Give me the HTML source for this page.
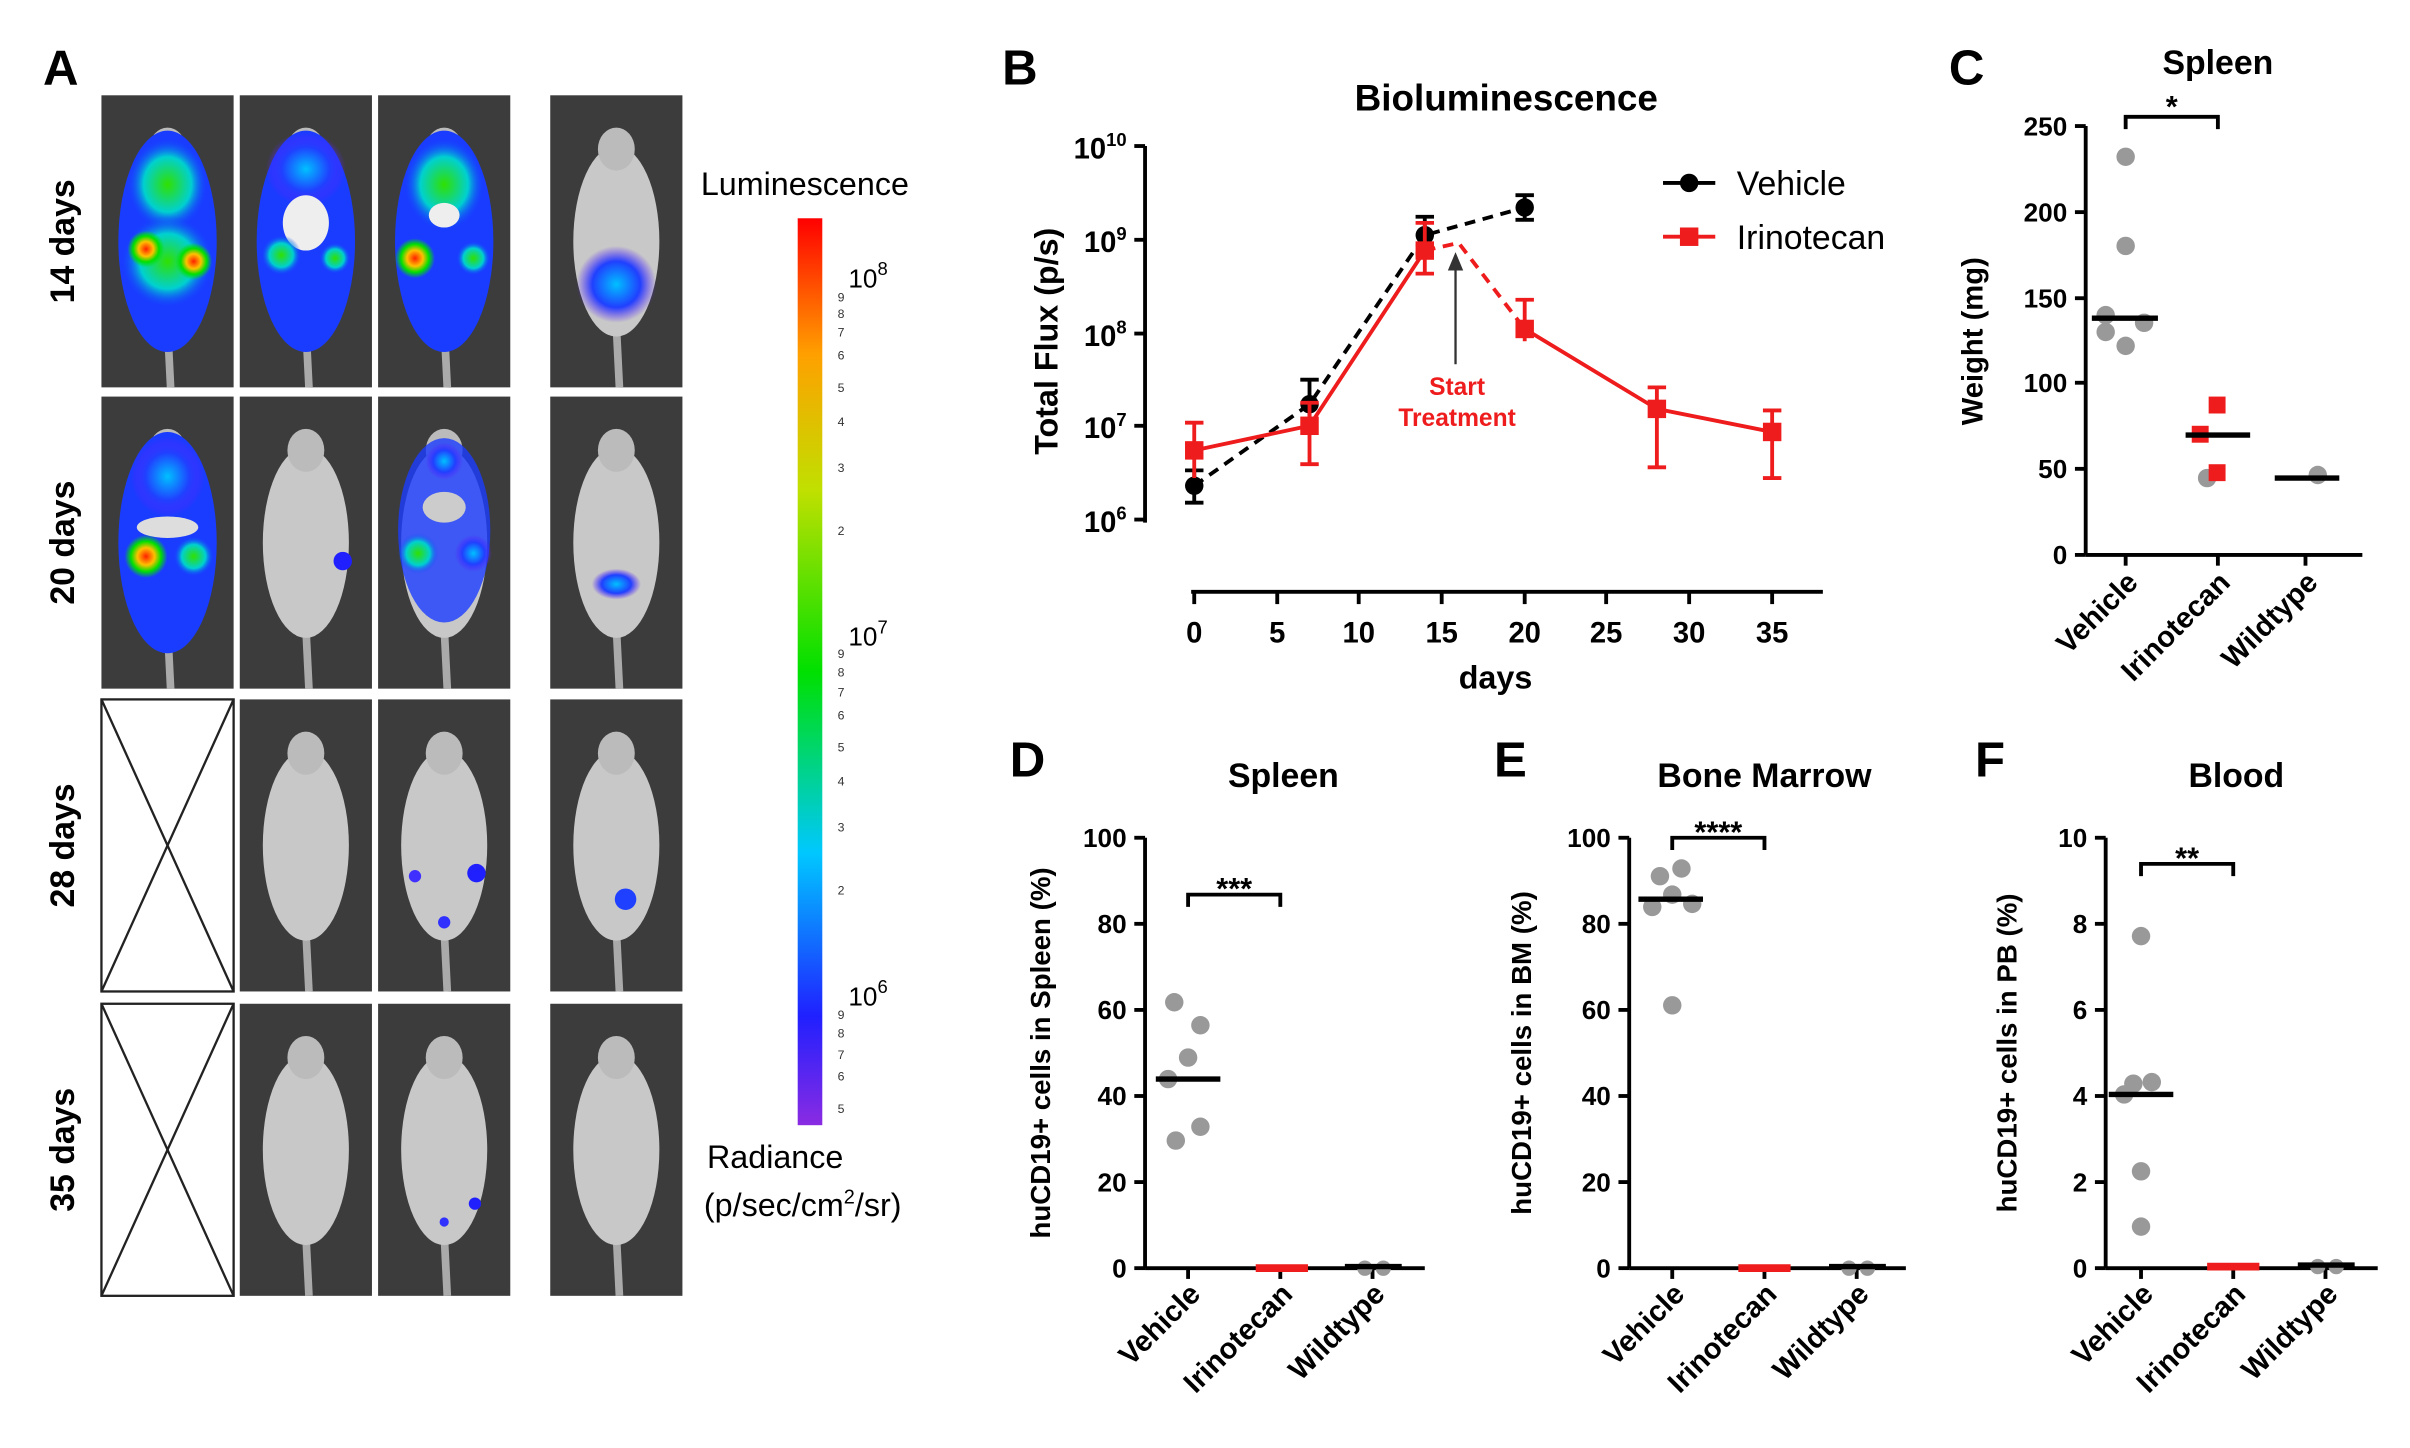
<!DOCTYPE html>
<html><head><meta charset="utf-8"><style>
html,body{margin:0;padding:0;background:#fff}
svg{display:block}
text{font-family:"Liberation Sans",Arial,sans-serif}
.b{font-weight:bold}
</style></head><body>
<svg width="2410" height="1448" viewBox="0 0 1568 942" preserveAspectRatio="none" xmlns="http://www.w3.org/2000/svg">
<defs>
<linearGradient id="cb" x1="0" y1="1" x2="0" y2="0">
<stop offset="0" stop-color="#8a2be2"/><stop offset="0.12" stop-color="#2020ff"/><stop offset="0.3" stop-color="#00c8ff"/><stop offset="0.5" stop-color="#00e000"/><stop offset="0.7" stop-color="#c0e000"/><stop offset="0.85" stop-color="#ffa000"/><stop offset="1" stop-color="#ff0000"/>
</linearGradient>
<radialGradient id="hot"><stop offset="0" stop-color="#ff2000"/><stop offset="0.4" stop-color="#ffc000"/><stop offset="0.7" stop-color="#00e000"/><stop offset="1" stop-color="#00e000" stop-opacity="0"/></radialGradient>
<radialGradient id="grn"><stop offset="0" stop-color="#30e000"/><stop offset="0.6" stop-color="#00d0d0"/><stop offset="1" stop-color="#1040ff" stop-opacity="0"/></radialGradient>
<radialGradient id="blu"><stop offset="0" stop-color="#00c0ff"/><stop offset="0.6" stop-color="#2040ff"/><stop offset="1" stop-color="#6020ff" stop-opacity="0"/></radialGradient>
<g id="mouse">
<line x1="43" y1="150" x2="45" y2="190" stroke="#aaa" stroke-width="5"/>
<ellipse cx="43" cy="95" rx="28" ry="62" fill="#c8c8c8"/>
<ellipse cx="43" cy="35" rx="12" ry="14" fill="#bbb"/>
</g>
</defs>
<rect width="1568" height="942" fill="#fff"/>
<!-- Panel A -->
<text x="28" y="55" class="b" font-size="32">A</text>
<g font-size="22" class="b">
<text transform="translate(48,157) rotate(-90)" text-anchor="middle">14 days</text>
<text transform="translate(48,353) rotate(-90)" text-anchor="middle">20 days</text>
<text transform="translate(48,550) rotate(-90)" text-anchor="middle">28 days</text>
<text transform="translate(48,748) rotate(-90)" text-anchor="middle">35 days</text>
</g>
<g fill="#3c3c3c">
<rect x="66" y="62" width="86" height="190"/><rect x="156" y="62" width="86" height="190"/><rect x="246" y="62" width="86" height="190"/><rect x="358" y="62" width="86" height="190"/>
<rect x="66" y="258" width="86" height="190"/><rect x="156" y="258" width="86" height="190"/><rect x="246" y="258" width="86" height="190"/><rect x="358" y="258" width="86" height="190"/>
<rect x="156" y="455" width="86" height="190"/><rect x="246" y="455" width="86" height="190"/><rect x="358" y="455" width="86" height="190"/>
<rect x="156" y="653" width="86" height="190"/><rect x="246" y="653" width="86" height="190"/><rect x="358" y="653" width="86" height="190"/>
</g>
<g>
<use href="#mouse" x="66" y="62"/><use href="#mouse" x="156" y="62"/><use href="#mouse" x="246" y="62"/><use href="#mouse" x="358" y="62"/>
<use href="#mouse" x="66" y="258"/><use href="#mouse" x="156" y="258"/><use href="#mouse" x="246" y="258"/><use href="#mouse" x="358" y="258"/>
<use href="#mouse" x="156" y="455"/><use href="#mouse" x="246" y="455"/><use href="#mouse" x="358" y="455"/>
<use href="#mouse" x="156" y="653"/><use href="#mouse" x="246" y="653"/><use href="#mouse" x="358" y="653"/>
</g>
<!-- overlays row 1 -->
<ellipse cx="109" cy="157" rx="32" ry="72" fill="#1a3cff"/>
<ellipse cx="109" cy="120" rx="26" ry="30" fill="url(#grn)"/>
<ellipse cx="109" cy="170" rx="30" ry="30" fill="url(#grn)"/>
<circle cx="95" cy="162" r="12" fill="url(#hot)"/><circle cx="126" cy="170" r="12" fill="url(#hot)"/>
<ellipse cx="199" cy="157" rx="32" ry="72" fill="#1a3cff"/>
<ellipse cx="199" cy="110" rx="26" ry="24" fill="url(#blu)"/>
<ellipse cx="199" cy="145" rx="15" ry="18" fill="#eee"/>
<circle cx="183" cy="166" r="13" fill="url(#grn)"/><circle cx="218" cy="168" r="10" fill="url(#grn)"/>
<ellipse cx="289" cy="157" rx="32" ry="72" fill="#1a3cff"/>
<ellipse cx="289" cy="120" rx="26" ry="30" fill="url(#grn)"/>
<ellipse cx="289" cy="140" rx="10" ry="8" fill="#eee"/>
<circle cx="270" cy="168" r="13" fill="url(#hot)"/><circle cx="308" cy="168" r="11" fill="url(#grn)"/>
<ellipse cx="401" cy="185" rx="26" ry="25" fill="url(#blu)"/>
<!-- row 2 -->
<ellipse cx="109" cy="353" rx="32" ry="72" fill="#1a3cff"/>
<ellipse cx="109" cy="310" rx="24" ry="26" fill="url(#blu)"/>
<ellipse cx="109" cy="343" rx="20" ry="7" fill="#ddd"/>
<circle cx="95" cy="362" r="14" fill="url(#hot)"/><circle cx="126" cy="362" r="13" fill="url(#grn)"/>
<ellipse cx="289" cy="345" rx="30" ry="60" fill="#1a3cff" opacity="0.8"/>
<circle cx="289" cy="300" r="12" fill="url(#blu)"/><circle cx="272" cy="360" r="13" fill="url(#grn)"/><circle cx="308" cy="360" r="12" fill="url(#blu)"/>
<ellipse cx="289" cy="330" rx="14" ry="10" fill="#ccc"/>
<circle cx="223" cy="365" r="6" fill="#2020ff"/>
<ellipse cx="401" cy="380" rx="16" ry="10" fill="url(#blu)"/>
<!-- row 3/4 spots -->
<circle cx="310" cy="568" r="6" fill="#2020ff"/><circle cx="270" cy="570" r="4" fill="#4030ff"/><circle cx="289" cy="600" r="4" fill="#3030ff"/>
<circle cx="407" cy="585" r="7" fill="#2040ff"/>
<circle cx="309" cy="783" r="4" fill="#2020ff"/><circle cx="289" cy="795" r="3" fill="#3030ff"/>
<!-- crossed boxes -->
<g fill="#fff" stroke="#222" stroke-width="1.5">
<rect x="66" y="455" width="86" height="190"/><line x1="66" y1="455" x2="152" y2="645"/><line x1="152" y1="455" x2="66" y2="645"/>
<rect x="66" y="653" width="86" height="190"/><line x1="66" y1="653" x2="152" y2="843"/><line x1="152" y1="653" x2="66" y2="843"/>
</g>
<!-- colorbar -->
<text x="456" y="127" font-size="21">Luminescence</text>
<rect x="519" y="142" width="16" height="590" fill="url(#cb)"/>
<g font-size="17"><text x="552" y="187">10<tspan font-size="12" dy="-8">8</tspan></text>
<text x="552" y="420">10<tspan font-size="12" dy="-8">7</tspan></text>
<text x="552" y="654">10<tspan font-size="12" dy="-8">6</tspan></text></g>
<g font-size="8" fill="#333">
<text x="545" y="196">9</text><text x="545" y="207">8</text><text x="545" y="219">7</text><text x="545" y="234">6</text><text x="545" y="255">5</text><text x="545" y="277">4</text><text x="545" y="307">3</text><text x="545" y="348">2</text>
<text x="545" y="428">9</text><text x="545" y="440">8</text><text x="545" y="453">7</text><text x="545" y="468">6</text><text x="545" y="489">5</text><text x="545" y="511">4</text><text x="545" y="541">3</text><text x="545" y="582">2</text>
<text x="545" y="663">9</text><text x="545" y="675">8</text><text x="545" y="689">7</text><text x="545" y="703">6</text><text x="545" y="724">5</text>
</g>
<text x="460" y="760" font-size="21">Radiance</text>
<text x="458" y="791" font-size="21">(p/sec/cm<tspan font-size="13" dy="-8">2</tspan><tspan dy="8">/sr)</tspan></text>

<!-- Panel B -->
<text x="652" y="55" class="b" font-size="32">B</text>
<text x="980" y="72" class="b" font-size="24" text-anchor="middle">Bioluminescence</text>
<g stroke="#000" stroke-width="2.5" fill="none">
<line x1="745" y1="95" x2="745" y2="340"/>
<line x1="738" y1="95" x2="745" y2="95"/><line x1="738" y1="156" x2="745" y2="156"/><line x1="738" y1="217" x2="745" y2="217"/><line x1="738" y1="277" x2="745" y2="277"/><line x1="738" y1="338" x2="745" y2="338"/>
<line x1="775" y1="385" x2="1186" y2="385"/>
<line x1="777" y1="385" x2="777" y2="393"/><line x1="831" y1="385" x2="831" y2="393"/><line x1="884" y1="385" x2="884" y2="393"/><line x1="938" y1="385" x2="938" y2="393"/><line x1="992" y1="385" x2="992" y2="393"/><line x1="1045" y1="385" x2="1045" y2="393"/><line x1="1099" y1="385" x2="1099" y2="393"/><line x1="1153" y1="385" x2="1153" y2="393"/>
</g>
<g font-size="19" class="b" text-anchor="end">
<text x="733" y="103">10<tspan font-size="12" dy="-8">10</tspan></text>
<text x="733" y="164">10<tspan font-size="12" dy="-8">9</tspan></text>
<text x="733" y="225">10<tspan font-size="12" dy="-8">8</tspan></text>
<text x="733" y="285">10<tspan font-size="12" dy="-8">7</tspan></text>
<text x="733" y="346">10<tspan font-size="12" dy="-8">6</tspan></text>
</g>
<g font-size="19" class="b" text-anchor="middle">
<text x="777" y="418">0</text><text x="831" y="418">5</text><text x="884" y="418">10</text><text x="938" y="418">15</text><text x="992" y="418">20</text><text x="1045" y="418">25</text><text x="1099" y="418">30</text><text x="1153" y="418">35</text>
<text x="973" y="448" font-size="21">days</text>
</g>
<text transform="translate(688,222) rotate(-90)" text-anchor="middle" font-size="21" class="b">Total Flux (p/s)</text>
<!-- vehicle -->
<g stroke="#000" stroke-width="2.5" fill="none">
<polyline points="777,316 852,263 927,153 992,135" stroke-dasharray="7,5"/>
<line x1="777" y1="306" x2="777" y2="327"/><line x1="771" y1="306" x2="783" y2="306"/><line x1="771" y1="327" x2="783" y2="327"/>
<line x1="852" y1="247" x2="852" y2="275"/><line x1="846" y1="247" x2="858" y2="247"/>
<line x1="927" y1="141" x2="927" y2="165"/><line x1="921" y1="141" x2="933" y2="141"/><line x1="921" y1="165" x2="933" y2="165"/>
<line x1="992" y1="127" x2="992" y2="143"/><line x1="986" y1="127" x2="998" y2="127"/><line x1="986" y1="143" x2="998" y2="143"/>
</g>
<g fill="#000"><circle cx="777" cy="316" r="6"/><circle cx="852" cy="263" r="6"/><circle cx="927" cy="153" r="6"/><circle cx="992" cy="135" r="6"/></g>
<!-- irinotecan -->
<g stroke="#ee1c1c" stroke-width="2.5" fill="none">
<polyline points="777,293 852,277 927,163"/>
<polyline points="927,163 949,158 992,214" stroke-dasharray="7,5"/>
<polyline points="992,214 1078,266 1153,281"/>
<line x1="777" y1="275" x2="777" y2="311"/><line x1="771" y1="275" x2="783" y2="275"/>
<line x1="852" y1="262" x2="852" y2="302"/><line x1="846" y1="262" x2="858" y2="262"/><line x1="846" y1="302" x2="858" y2="302"/>
<line x1="927" y1="145" x2="927" y2="178"/><line x1="921" y1="145" x2="933" y2="145"/><line x1="921" y1="178" x2="933" y2="178"/>
<line x1="992" y1="195" x2="992" y2="222"/><line x1="986" y1="195" x2="998" y2="195"/>
<line x1="1078" y1="252" x2="1078" y2="304"/><line x1="1072" y1="252" x2="1084" y2="252"/><line x1="1072" y1="304" x2="1084" y2="304"/>
<line x1="1153" y1="267" x2="1153" y2="311"/><line x1="1147" y1="267" x2="1159" y2="267"/><line x1="1147" y1="311" x2="1159" y2="311"/>
</g>
<g fill="#ee1c1c"><rect x="771" y="287" width="12" height="12"/><rect x="846" y="271" width="12" height="12"/><rect x="921" y="157" width="12" height="12"/><rect x="986" y="208" width="12" height="12"/><rect x="1072" y="260" width="12" height="12"/><rect x="1147" y="275" width="12" height="12"/></g>
<line x1="947" y1="237" x2="947" y2="172" stroke="#333" stroke-width="1.5"/>
<polygon points="947,164 942,176 952,176" fill="#333"/>
<text x="948" y="257" fill="#ee1c1c" font-size="16" class="b" text-anchor="middle">Start</text>
<text x="948" y="277" fill="#ee1c1c" font-size="16" class="b" text-anchor="middle">Treatment</text>
<line x1="1082" y1="119" x2="1116" y2="119" stroke="#000" stroke-width="2.5"/><circle cx="1099" cy="119" r="6"/>
<text x="1130" y="127" font-size="22">Vehicle</text>
<line x1="1082" y1="154" x2="1116" y2="154" stroke="#ee1c1c" stroke-width="2.5"/><rect x="1093" y="148" width="12" height="12" fill="#ee1c1c"/>
<text x="1130" y="162" font-size="22">Irinotecan</text>

<!-- Panel C -->
<text x="1268" y="55" class="b" font-size="32">C</text>
<text x="1443" y="48" class="b" font-size="22" text-anchor="middle">Spleen</text>
<g stroke="#000" stroke-width="2.5">
<line x1="1357" y1="82" x2="1357" y2="361"/><line x1="1357" y1="361" x2="1537" y2="361"/>
<line x1="1350" y1="82" x2="1357" y2="82"/><line x1="1350" y1="138" x2="1357" y2="138"/><line x1="1350" y1="194" x2="1357" y2="194"/><line x1="1350" y1="249" x2="1357" y2="249"/><line x1="1350" y1="305" x2="1357" y2="305"/><line x1="1350" y1="361" x2="1357" y2="361"/>
<line x1="1383" y1="361" x2="1383" y2="368"/><line x1="1443" y1="361" x2="1443" y2="368"/><line x1="1500" y1="361" x2="1500" y2="368"/>
</g>
<g font-size="17" class="b" text-anchor="end">
<text x="1345" y="88">250</text><text x="1345" y="144">200</text><text x="1345" y="200">150</text><text x="1345" y="255">100</text><text x="1345" y="311">50</text><text x="1345" y="367">0</text>
</g>
<text transform="translate(1290,222) rotate(-90)" text-anchor="middle" font-size="19" class="b">Weight (mg)</text>
<g font-size="19" class="b" text-anchor="end">
<text transform="translate(1392,380) rotate(-45)">Vehicle</text>
<text transform="translate(1452,380) rotate(-45)">Irinotecan</text>
<text transform="translate(1509,380) rotate(-45)">Wildtype</text>
</g>
<g fill="#999"><circle cx="1383" cy="102" r="6"/><circle cx="1383" cy="160" r="6"/><circle cx="1370" cy="205" r="6"/><circle cx="1395" cy="210" r="6"/><circle cx="1370" cy="216" r="6"/><circle cx="1383" cy="225" r="6"/><circle cx="1436" cy="311" r="6"/><circle cx="1508" cy="309" r="6"/></g>
<g fill="#ee1c1c"><rect x="1437" y="258" width="11" height="11"/><rect x="1426" y="277" width="11" height="11"/><rect x="1437" y="302" width="11" height="11"/></g>
<g stroke="#000" stroke-width="3.5"><line x1="1361" y1="207" x2="1404" y2="207"/><line x1="1422" y1="283" x2="1464" y2="283"/><line x1="1480" y1="311" x2="1522" y2="311"/></g>
<path d="M1383,84 V76 H1443 V84" stroke="#000" stroke-width="2.5" fill="none"/>
<text x="1413" y="76" font-size="20" class="b" text-anchor="middle">*</text>

<!-- Panel D -->
<text x="657" y="505" class="b" font-size="32">D</text>
<text x="835" y="512" class="b" font-size="22" text-anchor="middle">Spleen</text>
<g stroke="#000" stroke-width="2.5">
<line x1="745" y1="545" x2="745" y2="825"/><line x1="745" y1="825" x2="927" y2="825"/>
<line x1="738" y1="545" x2="745" y2="545"/><line x1="738" y1="601" x2="745" y2="601"/><line x1="738" y1="657" x2="745" y2="657"/><line x1="738" y1="713" x2="745" y2="713"/><line x1="738" y1="769" x2="745" y2="769"/><line x1="738" y1="825" x2="745" y2="825"/>
<line x1="773" y1="825" x2="773" y2="832"/><line x1="833" y1="825" x2="833" y2="832"/><line x1="893" y1="825" x2="893" y2="832"/>
</g>
<g font-size="17" class="b" text-anchor="end"><text x="733" y="551">100</text><text x="733" y="607">80</text><text x="733" y="663">60</text><text x="733" y="719">40</text><text x="733" y="775">20</text><text x="733" y="831">0</text></g>
<text transform="translate(683,685) rotate(-90)" text-anchor="middle" font-size="18" class="b">huCD19+ cells in Spleen (%)</text>
<g font-size="19" class="b" text-anchor="end">
<text transform="translate(782,843) rotate(-45)">Vehicle</text>
<text transform="translate(842,843) rotate(-45)">Irinotecan</text>
<text transform="translate(902,843) rotate(-45)">Wildtype</text>
</g>
<g fill="#999"><circle cx="764" cy="652" r="6"/><circle cx="781" cy="667" r="6"/><circle cx="773" cy="688" r="6"/><circle cx="760" cy="702" r="6"/><circle cx="781" cy="733" r="6"/><circle cx="765" cy="742" r="6"/><circle cx="888" cy="825" r="5"/><circle cx="900" cy="825" r="5"/></g>
<g stroke="#ee1c1c" stroke-width="5"><line x1="817" y1="825" x2="851" y2="825"/></g>
<g stroke="#000" stroke-width="3.5"><line x1="752" y1="702" x2="794" y2="702"/><line x1="875" y1="824" x2="912" y2="824"/></g>
<path d="M773,590 V582 H833 V590" stroke="#000" stroke-width="2.5" fill="none"/>
<text x="803" y="585" font-size="20" class="b" text-anchor="middle">***</text>

<!-- Panel E -->
<text x="972" y="505" class="b" font-size="32">E</text>
<text x="1148" y="512" class="b" font-size="22" text-anchor="middle">Bone Marrow</text>
<g stroke="#000" stroke-width="2.5">
<line x1="1060" y1="545" x2="1060" y2="825"/><line x1="1060" y1="825" x2="1240" y2="825"/>
<line x1="1053" y1="545" x2="1060" y2="545"/><line x1="1053" y1="601" x2="1060" y2="601"/><line x1="1053" y1="657" x2="1060" y2="657"/><line x1="1053" y1="713" x2="1060" y2="713"/><line x1="1053" y1="769" x2="1060" y2="769"/><line x1="1053" y1="825" x2="1060" y2="825"/>
<line x1="1088" y1="825" x2="1088" y2="832"/><line x1="1148" y1="825" x2="1148" y2="832"/><line x1="1208" y1="825" x2="1208" y2="832"/>
</g>
<g font-size="17" class="b" text-anchor="end"><text x="1048" y="551">100</text><text x="1048" y="607">80</text><text x="1048" y="663">60</text><text x="1048" y="719">40</text><text x="1048" y="775">20</text><text x="1048" y="831">0</text></g>
<text transform="translate(996,685) rotate(-90)" text-anchor="middle" font-size="18" class="b">huCD19+ cells in BM (%)</text>
<g font-size="19" class="b" text-anchor="end">
<text transform="translate(1097,843) rotate(-45)">Vehicle</text>
<text transform="translate(1157,843) rotate(-45)">Irinotecan</text>
<text transform="translate(1217,843) rotate(-45)">Wildtype</text>
</g>
<g fill="#999"><circle cx="1094" cy="565" r="6"/><circle cx="1080" cy="570" r="6"/><circle cx="1088" cy="582" r="6"/><circle cx="1101" cy="588" r="6"/><circle cx="1075" cy="590" r="6"/><circle cx="1088" cy="654" r="6"/><circle cx="1203" cy="825" r="5"/><circle cx="1215" cy="825" r="5"/></g>
<g stroke="#ee1c1c" stroke-width="5"><line x1="1131" y1="825" x2="1165" y2="825"/></g>
<g stroke="#000" stroke-width="3.5"><line x1="1066" y1="585" x2="1108" y2="585"/><line x1="1190" y1="824" x2="1227" y2="824"/></g>
<path d="M1088,553 V545 H1148 V553" stroke="#000" stroke-width="2.5" fill="none"/>
<text x="1118" y="548" font-size="20" class="b" text-anchor="middle">****</text>

<!-- Panel F -->
<text x="1285" y="505" class="b" font-size="32">F</text>
<text x="1455" y="512" class="b" font-size="22" text-anchor="middle">Blood</text>
<g stroke="#000" stroke-width="2.5">
<line x1="1370" y1="545" x2="1370" y2="825"/><line x1="1370" y1="825" x2="1547" y2="825"/>
<line x1="1363" y1="545" x2="1370" y2="545"/><line x1="1363" y1="601" x2="1370" y2="601"/><line x1="1363" y1="657" x2="1370" y2="657"/><line x1="1363" y1="713" x2="1370" y2="713"/><line x1="1363" y1="769" x2="1370" y2="769"/><line x1="1363" y1="825" x2="1370" y2="825"/>
<line x1="1393" y1="825" x2="1393" y2="832"/><line x1="1453" y1="825" x2="1453" y2="832"/><line x1="1513" y1="825" x2="1513" y2="832"/>
</g>
<g font-size="17" class="b" text-anchor="end"><text x="1358" y="551">10</text><text x="1358" y="607">8</text><text x="1358" y="663">6</text><text x="1358" y="719">4</text><text x="1358" y="775">2</text><text x="1358" y="831">0</text></g>
<text transform="translate(1312,685) rotate(-90)" text-anchor="middle" font-size="18" class="b">huCD19+ cells in PB (%)</text>
<g font-size="19" class="b" text-anchor="end">
<text transform="translate(1402,843) rotate(-45)">Vehicle</text>
<text transform="translate(1462,843) rotate(-45)">Irinotecan</text>
<text transform="translate(1522,843) rotate(-45)">Wildtype</text>
</g>
<g fill="#999"><circle cx="1393" cy="609" r="6"/><circle cx="1388" cy="705" r="6"/><circle cx="1400" cy="704" r="6"/><circle cx="1382" cy="712" r="6"/><circle cx="1393" cy="762" r="6"/><circle cx="1393" cy="798" r="6"/><circle cx="1508" cy="824" r="5"/><circle cx="1520" cy="824" r="5"/></g>
<g stroke="#ee1c1c" stroke-width="5"><line x1="1436" y1="824" x2="1470" y2="824"/></g>
<g stroke="#000" stroke-width="3.5"><line x1="1372" y1="712" x2="1414" y2="712"/><line x1="1495" y1="823" x2="1532" y2="823"/></g>
<path d="M1393,570 V562 H1453 V570" stroke="#000" stroke-width="2.5" fill="none"/>
<text x="1423" y="565" font-size="20" class="b" text-anchor="middle">**</text>
</svg>
</body></html>
